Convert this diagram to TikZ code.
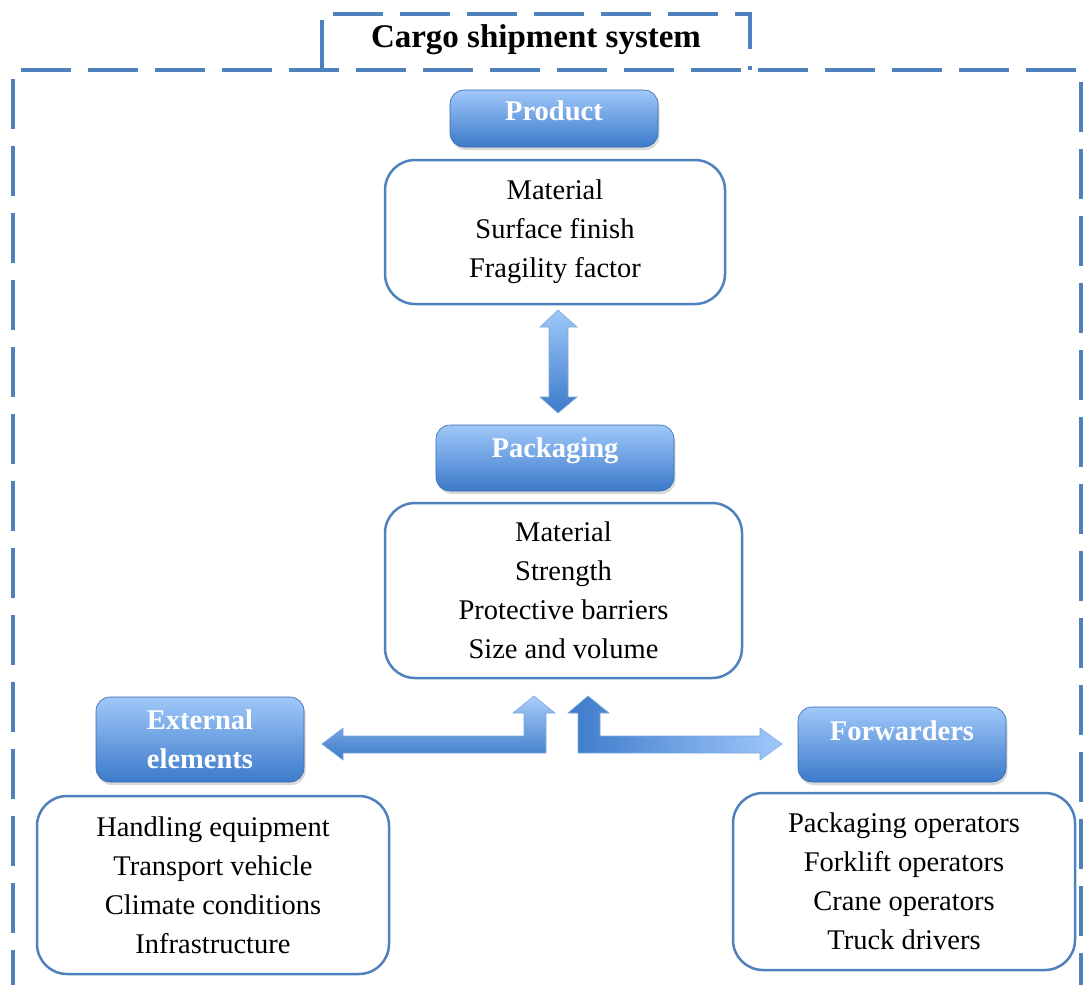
\documentclass[tikz,border=0pt]{standalone}
\usepackage{fontspec}
\setmainfont{Liberation Serif}
\usepackage{tikz}
\usetikzlibrary{positioning,shadows}

\definecolor{frameblue}{RGB}{79,129,189}
\definecolor{hdrlight}{RGB}{160,200,250}
\definecolor{hdrdark}{RGB}{60,122,202}
\definecolor{arrowedge}{RGB}{125,168,222}

\begin{document}
\begin{tikzpicture}[x=1pt, y=-1pt,
    hdr/.style={rectangle, rounded corners=14pt, draw=hdrdark!85!black, line width=0.6pt, top color=hdrlight, bottom color=hdrdark, text=white, font=\fontsize{28.5}{39}\selectfont\bfseries, align=center, minimum width=208pt, drop shadow={opacity=0.3, shadow xshift=1.5pt, shadow yshift=-3pt}},
    body/.style={rectangle, rounded corners=30pt, draw=frameblue, line width=2.5pt, fill=white, align=center, font=\fontsize{28.5}{39}\selectfont},
    frame/.style={frameblue, line width=4pt, dash pattern=on 50pt off 17pt},
    blockarrow/.style={draw=arrowedge, line width=0.6pt}]

    \useasboundingbox (0,0) rectangle (1085,985);
    \clip (0,0) rectangle (1085,985);

    % system frame with title tab
    \draw[frame] (13,1000) -- (13,70) -- (1081,70) -- (1081,1000);
    \draw[frame] (322,70) -- (322,14) -- (750,14) -- (750,70);
    \node[font=\fontsize{33}{40}\selectfont\bfseries] (title) at (536,40) {Cargo shipment system};

    \node[hdr, minimum height=57pt, text height=20pt, text depth=16pt] (prodhead) at (554,118.5) {Product};
    \node[body, minimum width=340pt, minimum height=144pt] (prodbody) at (555,232) {Material\\Surface finish\\Fragility factor};

    \node[hdr, minimum width=238pt, minimum height=66pt, text height=20pt, text depth=21pt] (packhead) at (555,458) {Packaging};
    \node[body, minimum width=357pt, minimum height=175pt] (packbody) at (563.5,590.5) {Material\\Strength\\Protective barriers\\Size and volume};

    \node[hdr, minimum height=85pt] (exthead) at (200,739.5) {External\\elements};
    \node[body, minimum width=352pt, minimum height=178pt] (extbody) at (213,885) {Handling equipment\\Transport vehicle\\Climate conditions\\Infrastructure};

    \node[hdr, minimum height=75pt, text height=20pt, text depth=28pt] (fwdhead) at (902,744.5) {Forwarders};
    \node[body, minimum width=342pt, minimum height=177pt] (fwdbody) at (904,881.5) {Packaging operators\\Forklift operators\\Crane operators\\Truck drivers};

    % block arrows
    \path[blockarrow, top color=hdrlight, bottom color=hdrdark]
        (558,310) -- (577,327) -- (568,327) -- (568,397) -- (577,397) -- (558,413)
        -- (540,397) -- (549,397) -- (549,327) -- (540,327) -- cycle;
    \path[blockarrow, top color=hdrlight!90!white, bottom color=hdrdark]
        (534,696) -- (555,713) -- (546,713) -- (546,753) -- (343,753) -- (343,760)
        -- (322,744) -- (343,728) -- (343,736) -- (524,736) -- (524,713) -- (513,713) -- cycle;
    \path[blockarrow, left color=hdrdark, right color=hdrlight]
        (588,696) -- (609,713) -- (600,713) -- (600,736) -- (760,736) -- (760,728)
        -- (782,744) -- (760,760) -- (760,753) -- (578,753) -- (578,713) -- (568,713) -- cycle;

\end{tikzpicture}
\end{document}
